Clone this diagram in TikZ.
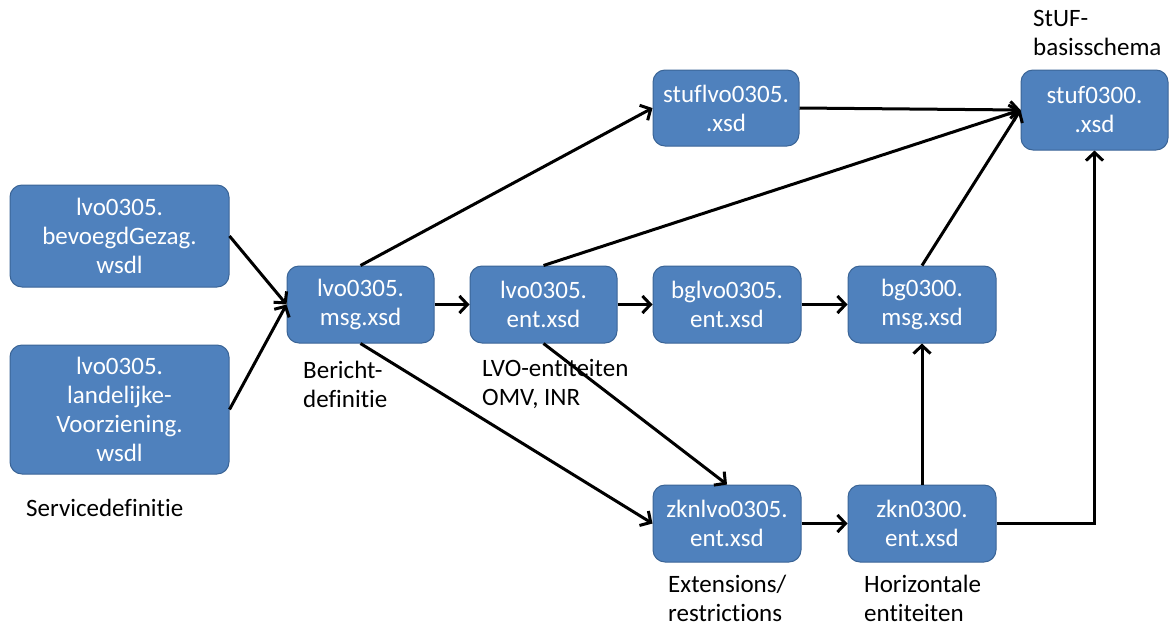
\documentclass[tikz,border=0pt]{standalone}
\usepackage{fontspec}
\setmainfont{Carlito}[RawFeature={-liga;-clig;-calt;-dlig}]
\usetikzlibrary{arrows.meta}
\definecolor{boxfill}{HTML}{4F81BD}
\definecolor{boxline}{HTML}{3A6496}
\tikzset{
	xsdbox/.style={draw=boxline,fill=boxfill,line width=1pt,rounded corners=12pt,
		text=white,align=center,inner sep=0pt,font=\fontsize{25}{29}\selectfont},
	lbl/.style={anchor=west,align=left,inner sep=0pt,font=\fontsize{25}{29}\selectfont},
	dep/.style={line width=3pt,-{Straight Barb[length=8pt,width=17pt,line width=3pt]}},
}
\begin{document}
\begin{tikzpicture}[x=1pt,y=-1pt]
	\useasboundingbox (0,0) rectangle (1170,627);
	% servicedefinitie
	\node[xsdbox,minimum width=219pt,minimum height=102pt] (bevoegd) at (119.5,236) {lvo0305.\\bevoegdGezag.\\wsdl};
	\node[xsdbox,minimum width=219pt,minimum height=129pt] (landelijk) at (119.5,409.5) {lvo0305.\\landelijke-\\Voorziening.\\wsdl};
	% berichten en entiteiten
	\node[xsdbox,minimum width=147pt,minimum height=77pt] (lvomsg) at (360.5,304.5) {lvo0305.\\msg.xsd};
	\node[xsdbox,minimum width=147pt,minimum height=77pt] (lvoent) at (543.5,304.5) {lvo0305.\\ent.xsd};
	\node[xsdbox,minimum width=148pt,minimum height=77pt] (bglvo) at (727,304.5) {bglvo0305.\\ent.xsd};
	\node[xsdbox,minimum width=148pt,minimum height=77pt] (bgmsg) at (922,304.5) {bg0300.\\msg.xsd};
	\node[xsdbox,minimum width=146pt,minimum height=76pt] (stuflvo) at (726,108) {stuflvo0305.\\.xsd};
	\node[xsdbox,minimum width=147pt,minimum height=80pt] (stuf) at (1094.5,110) {stuf0300.\\.xsd};
	\node[xsdbox,minimum width=148pt,minimum height=77pt] (zknlvo) at (727,523.5) {zknlvo0305.\\ent.xsd};
	\node[xsdbox,minimum width=148pt,minimum height=77pt] (zkn) at (922,523.5) {zkn0300.\\ent.xsd};
	
	% labels
	\node[lbl] (lblservice) at (26,508) {Servicedefinitie};
	\node[lbl] (lblbericht) at (303,384) {Bericht-\\definitie};
	\node[lbl] (lbllvo) at (482,384) {LVO-entiteiten\\OMV, INR};
	\node[lbl] (lblext) at (668,598) {Extensions/\\restrictions};
	\node[lbl] (lblhor) at (864,598) {Horizontale\\entiteiten};
	\node[lbl] (lblstuf) at (1033,33) {StUF-\\basisschema};
	
	% afhankelijkheden
	\draw[dep] (bevoegd.east) -- (lvomsg.west);
	\draw[dep] (landelijk.east) -- (lvomsg.west);
	\draw[dep] (lvomsg.east) -- (lvoent.west);
	\draw[dep] (lvoent.east) -- (bglvo.west);
	\draw[dep] (bglvo.east) -- (bgmsg.west);
	\draw[dep] (lvomsg.north) -- (stuflvo.west);
	\draw[dep] (stuflvo.east) -- (stuf.west);
	\draw[dep] (lvoent.north) -- (stuf.west);
	\draw[dep] (bgmsg.north) -- (stuf.west);
	\draw[dep] (lvomsg.south) -- (zknlvo.west);
	\draw[dep] (lvoent.south) -- (zknlvo.north);
	\draw[dep] (zknlvo.east) -- (zkn.west);
	\draw[dep] (zkn.north) -- (bgmsg.south);
	\draw[dep] (zkn.east) -| (stuf.south);
	%\draw[dep] (zkn.east) -- (stuf.south);
\end{tikzpicture}
\end{document}
